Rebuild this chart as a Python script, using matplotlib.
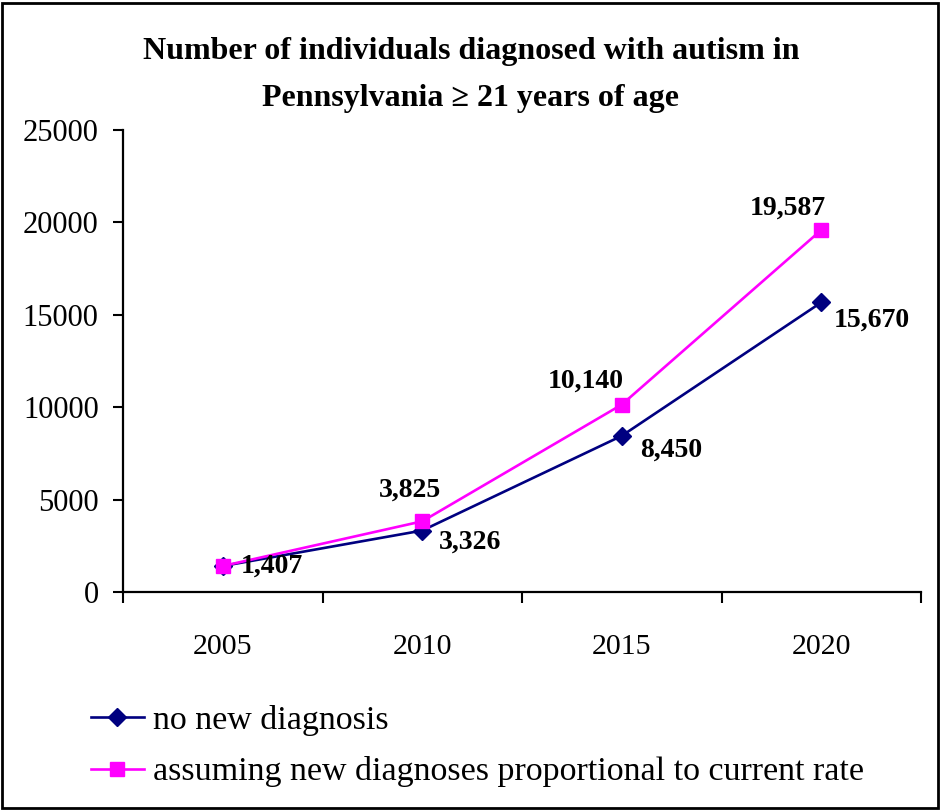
import matplotlib
matplotlib.use("Agg")
import matplotlib.pyplot as plt
from matplotlib.patches import Rectangle
from matplotlib.ticker import FixedLocator

years = ["2005", "2010", "2015", "2020"]
no_new = [1407, 3326, 8450, 15670]
proportional = [1407, 3825, 10140, 19587]
label_no_new = ["1,407", "3,326", "8,450", "15,670"]
label_prop = [None, "3,825", "10,140", "19,587"]
series_names = ["no new diagnosis", "assuming new diagnoses proportional to current rate"]
title = "Number of individuals diagnosed with autism in\nPennsylvania \u2265 21 years of age"

plt.rcParams['font.family'] = ['Liberation Serif', 'DejaVu Serif']

W, H = 941, 810
fig = plt.figure(figsize=(W / 100, H / 100), dpi=100)
ax = fig.add_axes([123 / W, (H - 592) / H, (921 - 123) / W, (592 - 130) / H])

x = list(range(len(years)))
navy = "#000080"
magenta = "#FF00FF"
ax.plot(x, no_new, color=navy, lw=1.9, marker="D", ms=9, mfc=navy, mec=navy,
        label=series_names[0], zorder=3)
ax.plot(x, proportional, color=magenta, lw=1.9, marker="s", ms=10.5, mfc=magenta, mec=magenta,
        label=series_names[1], zorder=4)

ax.set_xlim(-0.5, len(years) - 0.5)
ax.set_ylim(0, 25000)
ax.set_yticks([0, 5000, 10000, 15000, 20000, 25000])
ax.set_xticks(x)
ax.set_xticklabels(years)
ax.xaxis.set_minor_locator(FixedLocator([i - 0.5 for i in range(len(years) + 1)]))
ax.tick_params(axis="x", which="major", length=0, pad=30, labelsize=21.5)
ax.tick_params(axis="x", which="minor", length=8, width=1.5, direction="out")
ax.tick_params(axis="y", length=7.5, width=1.5, direction="out", pad=10, labelsize=22)
for s in ["top", "right"]:
    ax.spines[s].set_visible(False)
for s in ["left", "bottom"]:
    ax.spines[s].set_linewidth(1.6)
    ax.spines[s].set_zorder(5)

# data labels
off_no_new = [(18, 0), (17, -12), (18, -14), (12, -18)]
for xi, yi, lab, (dx, dy) in zip(x, no_new, label_no_new, off_no_new):
    ax.annotate(lab, (xi, yi), xytext=(dx, dy), textcoords="offset pixels",
                ha="left", va="center", fontsize=20, fontweight="bold", zorder=6)
off_prop = [None, (-12, 31), (-36, 23), (-33, 22)]
for xi, yi, lab, off in zip(x, proportional, label_prop, off_prop):
    if lab is None:
        continue
    ax.annotate(lab, (xi, yi), xytext=off, textcoords="offset pixels",
                ha="center", va="center", fontsize=20, fontweight="bold", zorder=6)

fig.text(471 / W, 1 - 75 / H, title, ha="center", va="center", fontsize=23,
         fontweight="bold", linespacing=1.85)

leg = ax.legend(loc="upper left", bbox_to_anchor=(74 / W, 1 - 688 / H),
                bbox_transform=fig.transFigure, frameon=False, fontsize=24.5,
                handlelength=1.55, handletextpad=0.27, labelspacing=0.6, borderpad=0)

fig.patches.append(Rectangle((2 / W, 2 / H), (W - 5) / W, (H - 5) / H,
                             transform=fig.transFigure, fill=False, lw=2, ec="black"))

fig.savefig("out.png", dpi=100)
